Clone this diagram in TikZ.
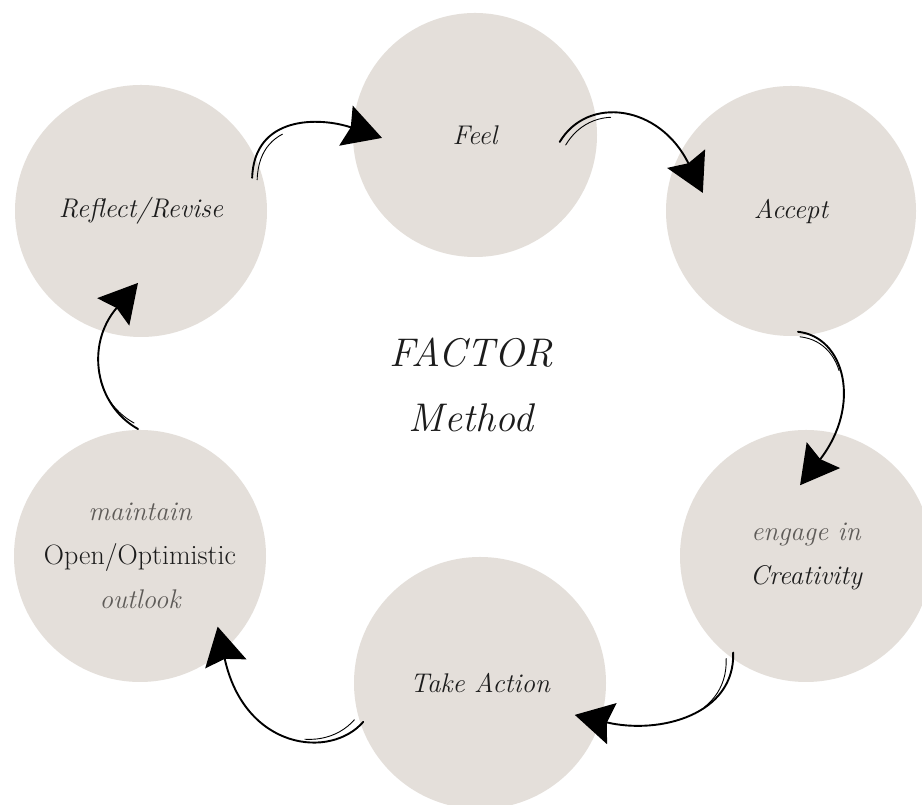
\documentclass[tikz,border=0pt]{standalone}
\usetikzlibrary{arrows.meta}
\usetikzlibrary{calc}
\definecolor{stagefill}{HTML}{E4DFDA}
\definecolor{softgray}{HTML}{5E5B58}
\definecolor{inkblack}{HTML}{1C1C1C}

\begin{document}
\begin{tikzpicture}[x=1pt,y=1pt,
  stage/.style={circle,fill=stagefill,minimum size=250pt,inner sep=0pt,text=inkblack,align=center,font=\fontsize{27}{44}\selectfont\itshape},
  flow/.style={draw=black,line width=1.9pt,line cap=round,-{Stealth[length=38pt,width=42pt,inset=5pt]}},
  tail/.style={draw=black,line width=0.9pt,line cap=round,dash pattern=on 55pt off 2000pt}]
\useasboundingbox (0,0) rectangle (922,805);
\fill[white] (0,0) rectangle (922,805);

\node[stage,minimum size=244pt] (feel) at (475,670) {Feel};
\node[stage] (accept) at (791,594) {Accept};
\node[stage,minimum size=252pt] (creat) at (806,249) {\textcolor{softgray}{engage in}\\Creativity};
\node[stage,minimum size=252pt] (action) at (480,122) {Take Action};
\node[stage,minimum size=252pt] (open) at (140,249) {\textcolor{softgray}{maintain}\\{\upshape\fontsize{28}{44}\selectfont Open/Optimistic}\\\textcolor{softgray}{outlook}};
\node[stage,minimum size=252pt] (refl) at (141,594) {Reflect/Revise};

\node[font=\fontsize{40}{65}\selectfont\itshape,text=inkblack,align=center] (title) at (471,420) {FACTOR\\Method};

% ends of the arrows
\coordinate (s1) at ($(refl)+(16.6:116)$);
\coordinate (t1) at ($(feel)+(181.8:93)$);
\coordinate (s2) at ($(feel)+(-4.7:85)$);
\coordinate (t2) at ($(accept)+(168.4:90)$);
\coordinate (s3) at ($(accept)+(-86.7:121)$);
\coordinate (t3) at ($(creat)+(94.8:71)$);
\coordinate (s4) at ($(creat)+(233:121)$);
\coordinate (t4) at ($(action)+(-18.6:100)$);
\coordinate (s5) at ($(action)+(198.4:123)$);
\coordinate (t5) at ($(open)+(-42.3:105)$);
\coordinate (s6) at ($(open)+(90.9:127)$);
\coordinate (t6) at ($(refl)+(267.6:72)$);

\draw[flow] (s1) .. controls +(2,63) and +(-62,21) .. (t1);
\draw[tail] ([shift={(5,-2)}]s1) .. controls +(2,63) and +(-62,21) .. ([shift={(5,-2)}]t1);
\draw[flow] (s2) .. controls +(28,47) and +(-43,88) .. (t2);
\draw[tail] ([shift={(6,-3)}]s2) .. controls +(28,47) and +(-43,88) .. ([shift={(6,-3)}]t2);
\draw[flow] (s3) .. controls +(47,-5) and +(62,80) .. (t3);
\draw[tail] ([shift={(2,-5)}]s3) .. controls +(47,-5) and +(62,80) .. ([shift={(2,-5)}]t3);
\draw[flow] (s4) .. controls +(2,-62) and +(85,-20) .. (t4);
\draw[tail] ([shift={(-7,-6)}]s4) .. controls +(2,-62) and +(85,-20) .. ([shift={(-7,-6)}]t4);
\draw[flow] (s5) .. controls +(-33,-38) and +(27,-123) .. (t5);
\draw[tail] ([shift={(-9,2)}]s5) .. controls +(-33,-38) and +(27,-123) .. ([shift={(-9,2)}]t5);
\draw[flow] (s6) .. controls +(-43,24) and +(-53,-62) .. (t6);
\draw[tail] ([shift={(-4,6)}]s6) .. controls +(-43,24) and +(-53,-62) .. ([shift={(-4,6)}]t6);

\end{tikzpicture}
\end{document}
